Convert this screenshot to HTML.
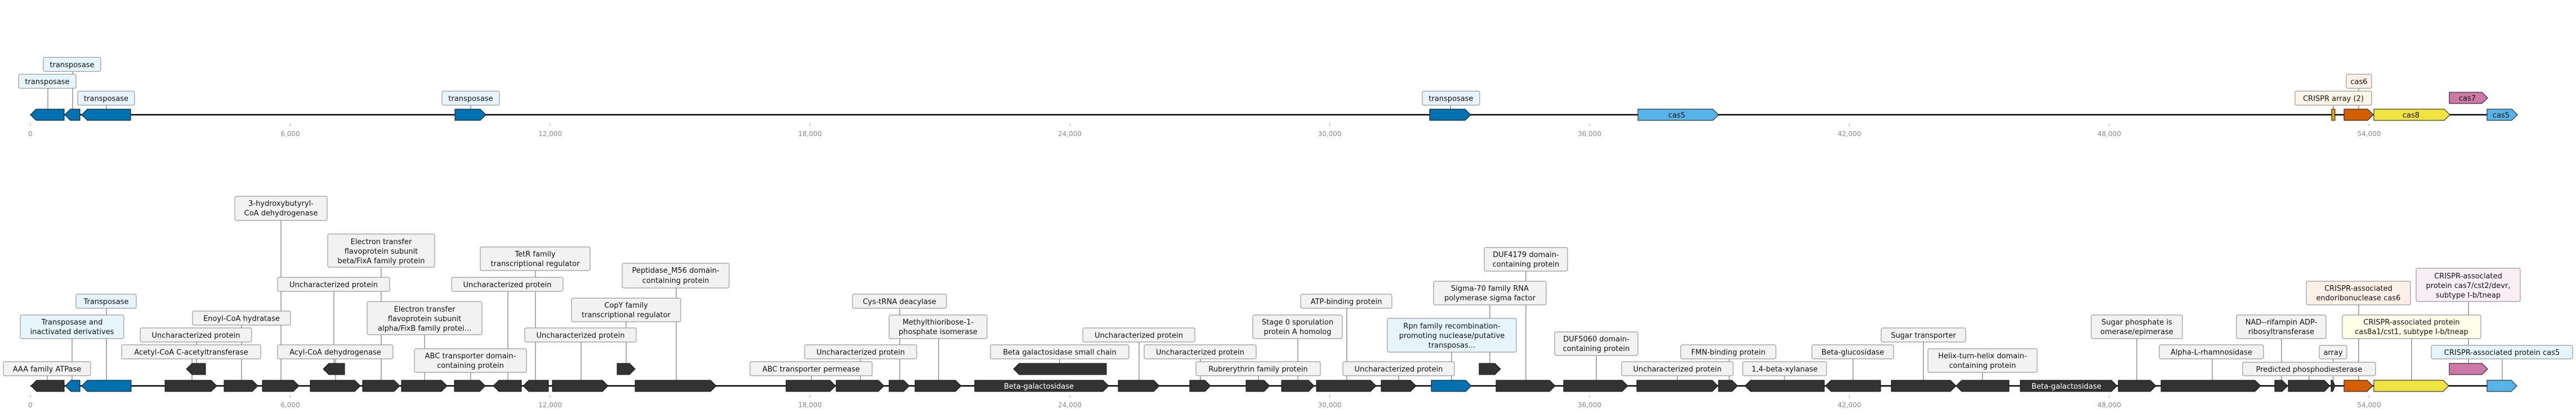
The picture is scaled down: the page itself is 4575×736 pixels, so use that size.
<!DOCTYPE html>
<html><head><meta charset="utf-8"><style>
html,body{margin:0;padding:0;background:#fff;}
svg{display:block;}
text{font-family:"DejaVu Sans","Liberation Sans",sans-serif;}
.lb{font-size:13px;fill:#111;text-anchor:middle;}
.tk{font-size:12px;fill:#888;text-anchor:middle;}
.g{fill:#333;stroke:#111;stroke-width:1;}
.b{fill:#0072b2;stroke:#111;stroke-width:1;}
.bx{fill:#f2f2f2;stroke:#999;stroke-width:1.2;}
.bl{fill:#e6f4fc;stroke:#999;stroke-width:1.2;}
.c{stroke:#333;stroke-width:0.8;}
.gt{font-size:13px;fill:#fff;text-anchor:middle;}
.ct{font-size:13px;fill:#111;text-anchor:middle;}
</style></head><body>
<svg width="4575" height="736" xmlns="http://www.w3.org/2000/svg">
<!-- TOP TRACK -->
<line x1="54" y1="204" x2="4417" y2="204" stroke="#000" stroke-width="2.5"/>
<g stroke="#999" stroke-width="1">
<line x1="54" y1="220" x2="54" y2="224"/><line x1="515.5" y1="220" x2="515.5" y2="224"/><line x1="977" y1="220" x2="977" y2="224"/><line x1="1438.5" y1="220" x2="1438.5" y2="224"/><line x1="1900" y1="220" x2="1900" y2="224"/><line x1="2361.5" y1="220" x2="2361.5" y2="224"/><line x1="2823" y1="220" x2="2823" y2="224"/><line x1="3284.5" y1="220" x2="3284.5" y2="224"/><line x1="3746" y1="220" x2="3746" y2="224"/><line x1="4207.5" y1="220" x2="4207.5" y2="224"/>
</g>
<g class="tk">
<text x="54" y="242">0</text><text x="515.5" y="242">6,000</text><text x="977" y="242">12,000</text><text x="1438.5" y="242">18,000</text><text x="1900" y="242">24,000</text><text x="2361.5" y="242">30,000</text><text x="2823" y="242">36,000</text><text x="3284.5" y="242">42,000</text><text x="3746" y="242">48,000</text><text x="4207.5" y="242">54,000</text>
</g>
<g class="c">
<line x1="85" y1="157" x2="85" y2="194"/><line x1="129" y1="127" x2="129" y2="194"/><line x1="189" y1="187" x2="189" y2="194"/><line x1="836" y1="187" x2="836" y2="194"/><line x1="2576" y1="187" x2="2576" y2="194"/><line x1="4189" y1="157" x2="4189" y2="194"/><line x1="4144" y1="187" x2="4144" y2="194"/>
</g>
<path class="b" d="M114 194 L64 194 L54 204 L64 214 L114 214Z"/>
<path class="b" d="M142 194 L125 194 L115 204 L125 214 L142 214Z"/>
<path class="b" d="M232 194 L155 194 L145 204 L155 214 L232 214Z"/>
<path class="b" d="M808 194 L853 194 L863 204 L853 214 L808 214Z"/>
<path class="b" d="M2539 194 L2602 194 L2612 204 L2602 214 L2539 214Z"/>
<path d="M2909 194 L3042 194 L3052 204 L3042 214 L2909 214Z" fill="#56b4e9" stroke="#111"/>
<text class="ct" x="2978" y="209">cas5</text>
<rect x="4141" y="194" width="6" height="20" fill="#e69f00" stroke="#111"/>
<path d="M4163 194 L4205 194 L4215 204 L4205 214 L4163 214Z" fill="#d55e00" stroke="#111"/>
<path d="M4216 194 L4341 194 L4351 204 L4341 214 L4216 214Z" fill="#f0e442" stroke="#111"/>
<text class="ct" x="4282" y="209">cas8</text>
<path d="M4350 164 L4408 164 L4418 174 L4408 184 L4350 184Z" fill="#cc79a7" stroke="#111"/>
<text class="ct" x="4382" y="179">cas7</text>
<path d="M4417 194 L4461 194 L4471 204 L4461 214 L4417 214Z" fill="#56b4e9" stroke="#111"/>
<text class="ct" x="4442" y="209">cas5</text>
<rect class="bl" x="33" y="132" width="102" height="25" rx="3"/><text class="lb" x="84" y="149.5">transposase</text>
<rect class="bl" x="77" y="102" width="102" height="25" rx="3"/><text class="lb" x="128" y="119.5">transposase</text>
<rect class="bl" x="138" y="162" width="101" height="25" rx="3"/><text class="lb" x="188.5" y="179.5">transposase</text>
<rect class="bl" x="785" y="162" width="102" height="25" rx="3"/><text class="lb" x="836" y="179.5">transposase</text>
<rect class="bl" x="2526" y="162" width="102" height="25" rx="3"/><text class="lb" x="2577" y="179.5">transposase</text>
<rect x="4167" y="132" width="45" height="25" rx="3" fill="#fdf0e6" stroke="#999" stroke-width="1.2"/><text class="lb" x="4189.5" y="149.5">cas6</text>
<rect x="4076" y="162" width="136" height="25" rx="3" fill="#fdf6e8" stroke="#999" stroke-width="1.2"/><text class="lb" x="4144" y="179.5">CRISPR array (2)</text>

<!-- BOTTOM TRACK -->
<line x1="54" y1="686" x2="4417" y2="686" stroke="#000" stroke-width="2.5"/>
<g stroke="#999" stroke-width="1">
<line x1="54" y1="703" x2="54" y2="707"/><line x1="515.5" y1="703" x2="515.5" y2="707"/><line x1="977" y1="703" x2="977" y2="707"/><line x1="1438.5" y1="703" x2="1438.5" y2="707"/><line x1="1900" y1="703" x2="1900" y2="707"/><line x1="2361.5" y1="703" x2="2361.5" y2="707"/><line x1="2823" y1="703" x2="2823" y2="707"/><line x1="3284.5" y1="703" x2="3284.5" y2="707"/><line x1="3746" y1="703" x2="3746" y2="707"/><line x1="4207.5" y1="703" x2="4207.5" y2="707"/>
</g>
<g class="tk">
<text x="54" y="724">0</text><text x="515.5" y="724">6,000</text><text x="977" y="724">12,000</text><text x="1438.5" y="724">18,000</text><text x="1900" y="724">24,000</text><text x="2361.5" y="724">30,000</text><text x="2823" y="724">36,000</text><text x="3284.5" y="724">42,000</text><text x="3746" y="724">48,000</text><text x="4207.5" y="724">54,000</text>
</g>
<!-- connectors -->
<g class="c">
<line x1="84" y1="668" x2="84" y2="676"/>
<line x1="128" y1="602" x2="128" y2="676"/>
<line x1="189" y1="548" x2="189" y2="676"/>
<line x1="341" y1="638" x2="341" y2="676"/>
<line x1="349" y1="608" x2="349" y2="646"/>
<line x1="429" y1="578" x2="429" y2="676"/>
<line x1="499" y1="392" x2="499" y2="676"/>
<line x1="593" y1="518" x2="593" y2="646"/>
<line x1="596" y1="638" x2="596" y2="676"/>
<line x1="677" y1="475" x2="677" y2="676"/>
<line x1="754" y1="595" x2="754" y2="676"/>
<line x1="836" y1="662" x2="836" y2="676"/>
<line x1="902" y1="518" x2="902" y2="676"/>
<line x1="951" y1="481" x2="951" y2="676"/>
<line x1="1032" y1="608" x2="1032" y2="676"/>
<line x1="1112" y1="572" x2="1112" y2="646"/>
<line x1="1201" y1="512" x2="1201" y2="676"/>
<line x1="1441" y1="668" x2="1441" y2="676"/>
<line x1="1528" y1="638" x2="1528" y2="676"/>
<line x1="1598" y1="548" x2="1598" y2="676"/>
<line x1="1667" y1="602" x2="1667" y2="676"/>
<line x1="1882" y1="638" x2="1882" y2="646"/>
<line x1="2023" y1="608" x2="2023" y2="676"/>
<line x1="2132" y1="638" x2="2132" y2="676"/>
<line x1="2235" y1="668" x2="2235" y2="676"/>
<line x1="2305" y1="602" x2="2305" y2="676"/>
<line x1="2392" y1="548" x2="2392" y2="676"/>
<line x1="2484" y1="668" x2="2484" y2="676"/>
<line x1="2578" y1="626" x2="2578" y2="676"/>
<line x1="2646" y1="542" x2="2646" y2="646"/>
<line x1="2710" y1="482" x2="2710" y2="676"/>
<line x1="2835" y1="632" x2="2835" y2="676"/>
<line x1="2979" y1="668" x2="2979" y2="676"/>
<line x1="3071" y1="638" x2="3071" y2="676"/>
<line x1="3169" y1="668" x2="3169" y2="676"/>
<line x1="3291" y1="638" x2="3291" y2="676"/>
<line x1="3416" y1="608" x2="3416" y2="676"/>
<line x1="3521" y1="662" x2="3521" y2="676"/>
<line x1="3795" y1="602" x2="3795" y2="676"/>
<line x1="3929" y1="638" x2="3929" y2="676"/>
<line x1="4052" y1="602" x2="4052" y2="676"/>
<line x1="4101" y1="668" x2="4101" y2="676"/>
<line x1="4144" y1="638" x2="4144" y2="676"/>
<line x1="4189" y1="542" x2="4189" y2="676"/>
<line x1="4283" y1="602" x2="4283" y2="676"/>
<line x1="4384" y1="536" x2="4384" y2="646"/>
<line x1="4444" y1="638" x2="4444" y2="676"/>
</g>
<!-- genes -->
<path class="g" d="M114 676 L65 676 L55 686 L65 696 L114 696Z"/>
<path class="b" d="M142 676 L126 676 L116 686 L126 696 L142 696Z"/>
<path class="b" d="M233 676 L155 676 L145 686 L155 696 L233 696Z"/>
<path class="g" d="M293 676 L375 676 L385 686 L375 696 L293 696Z"/>
<path class="g" d="M398 676 L448 676 L458 686 L448 696 L398 696Z"/>
<path class="g" d="M466 676 L521 676 L531 686 L521 696 L466 696Z"/>
<path class="g" d="M551 676 L630 676 L640 686 L630 696 L551 696Z"/>
<path class="g" d="M644 676 L700 676 L710 686 L700 696 L644 696Z"/>
<path class="g" d="M713 676 L784 676 L794 686 L784 696 L713 696Z"/>
<path class="g" d="M807 676 L852 676 L862 686 L852 696 L807 696Z"/>
<path class="g" d="M926 676 L886 676 L876 686 L886 696 L926 696Z"/>
<path class="g" d="M974 676 L939 676 L929 686 L939 696 L974 696Z"/>
<path class="g" d="M981 676 L1070 676 L1080 686 L1070 696 L981 696Z"/>
<path class="g" d="M1128 676 L1262 676 L1272 686 L1262 696 L1128 696Z"/>
<path class="g" d="M1396 676 L1474 676 L1484 686 L1474 696 L1396 696Z"/>
<path class="g" d="M1485 676 L1560 676 L1570 686 L1560 696 L1485 696Z"/>
<path class="g" d="M1579 676 L1605 676 L1615 686 L1605 696 L1579 696Z"/>
<path class="g" d="M1625 676 L1697 676 L1707 686 L1697 696 L1625 696Z"/>
<path class="g" d="M1731 676 L1959 676 L1969 686 L1959 696 L1731 696Z"/>
<text class="gt" x="1845" y="691">Beta-galactosidase</text>
<path class="g" d="M1986 676 L2049 676 L2059 686 L2049 696 L1986 696Z"/>
<path class="g" d="M2113 676 L2140 676 L2150 686 L2140 696 L2113 696Z"/>
<path class="g" d="M2213 676 L2245 676 L2255 686 L2245 696 L2213 696Z"/>
<path class="g" d="M2276 676 L2324 676 L2334 686 L2324 696 L2276 696Z"/>
<path class="g" d="M2338 676 L2434 676 L2444 686 L2434 696 L2338 696Z"/>
<path class="g" d="M2453 676 L2505 676 L2515 686 L2505 696 L2453 696Z"/>
<path class="b" d="M2542 676 L2603 676 L2613 686 L2603 696 L2542 696Z"/>
<path class="g" d="M2657 676 L2752 676 L2762 686 L2752 696 L2657 696Z"/>
<path class="g" d="M2777 676 L2881 676 L2891 686 L2881 696 L2777 696Z"/>
<path class="g" d="M2907 676 L3041 676 L3051 686 L3041 696 L2907 696Z"/>
<path class="g" d="M3052 676 L3076 676 L3086 686 L3076 696 L3052 696Z"/>
<path class="g" d="M3240 676 L3109 676 L3099 686 L3109 696 L3240 696Z"/>
<path class="g" d="M3340 676 L3252 676 L3242 686 L3252 696 L3340 696Z"/>
<path class="g" d="M3359 676 L3464 676 L3474 686 L3464 696 L3359 696Z"/>
<path class="g" d="M3568 676 L3484 676 L3474 686 L3484 696 L3568 696Z"/>
<path class="g" d="M3588 676 L3750 676 L3760 686 L3750 696 L3588 696Z"/>
<text class="gt" x="3670" y="691">Beta-galactosidase</text>
<path class="g" d="M3762 676 L3819 676 L3829 686 L3819 696 L3762 696Z"/>
<path class="g" d="M3838 676 L4005 676 L4015 686 L4005 696 L3838 696Z"/>
<path class="g" d="M4040 676 L4053 676 L4063 686 L4053 696 L4040 696Z"/>
<path class="g" d="M4064 676 L4128 676 L4138 686 L4128 696 L4064 696Z"/>
<path class="g" d="M4140 676 L4143 676 L4147 686 L4143 696 L4140 696Z"/>
<path d="M4163 676 L4204 676 L4214 686 L4204 696 L4163 696Z" fill="#d55e00" stroke="#111"/>
<path d="M4216 676 L4339 676 L4349 686 L4339 696 L4216 696Z" fill="#f0e442" stroke="#111"/>
<path d="M4417 676 L4460 676 L4470 686 L4460 696 L4417 696Z" fill="#56b4e9" stroke="#111"/>
<!-- elevated -->
<path class="g" d="M365 646 L341 646 L331 656 L341 666 L365 666Z"/>
<path class="g" d="M612 646 L584 646 L574 656 L584 666 L612 666Z"/>
<path class="g" d="M1096 646 L1118 646 L1128 656 L1118 666 L1096 666Z"/>
<path class="g" d="M1965 646 L1810 646 L1800 656 L1810 666 L1965 666Z"/>
<path class="g" d="M2627 646 L2655 646 L2665 656 L2655 666 L2627 666Z"/>
<path d="M4350 646 L4408 646 L4418 656 L4408 666 L4350 666Z" fill="#cc79a7" stroke="#111"/>
<!-- label boxes -->
<rect class="bx" x="6" y="643" width="155" height="25" rx="3"/><text class="lb" x="83.5" y="660.5">AAA family ATPase</text>
<rect class="bl" x="36" y="560" width="184" height="42" rx="3"/><text class="lb" x="128" y="577">Transposase and</text><text class="lb" x="128" y="594">inactivated derivatives</text>
<rect class="bl" x="135" y="523" width="107" height="25" rx="3"/><text class="lb" x="188.5" y="540.5">Transposase</text>
<rect class="bx" x="216" y="613" width="247" height="25" rx="3"/><text class="lb" x="339.5" y="630.5">Acetyl-CoA C-acetyltransferase</text>
<rect class="bx" x="249" y="583" width="198" height="25" rx="3"/><text class="lb" x="348" y="600.5">Uncharacterized protein</text>
<rect class="bx" x="342" y="553" width="174" height="25" rx="3"/><text class="lb" x="429" y="570.5">Enoyl-CoA hydratase</text>
<rect class="bx" x="417" y="349" width="164" height="43" rx="3"/><text class="lb" x="499" y="366">3-hydroxybutyryl-</text><text class="lb" x="499" y="383">CoA dehydrogenase</text>
<rect class="bx" x="493" y="493" width="199" height="25" rx="3"/><text class="lb" x="592.5" y="510.5">Uncharacterized protein</text>
<rect class="bx" x="493" y="613" width="205" height="25" rx="3"/><text class="lb" x="595.5" y="630.5">Acyl-CoA dehydrogenase</text>
<rect class="bx" x="582" y="416" width="190" height="59" rx="3"/><text class="lb" x="677" y="434">Electron transfer</text><text class="lb" x="677" y="451">flavoprotein subunit</text><text class="lb" x="677" y="468">beta/FixA family protein</text>
<rect class="bx" x="652" y="536" width="204" height="59" rx="3"/><text class="lb" x="754" y="554">Electron transfer</text><text class="lb" x="754" y="571">flavoprotein subunit</text><text class="lb" x="754" y="588">alpha/FixB family protei...</text>
<rect class="bx" x="736" y="620" width="199" height="42" rx="3"/><text class="lb" x="835.5" y="637">ABC transporter domain-</text><text class="lb" x="835.5" y="654">containing protein</text>
<rect class="bx" x="802" y="493" width="198" height="25" rx="3"/><text class="lb" x="901" y="510.5">Uncharacterized protein</text>
<rect class="bx" x="853" y="439" width="195" height="42" rx="3"/><text class="lb" x="950.5" y="456">TetR family</text><text class="lb" x="950.5" y="473">transcriptional regulator</text>
<rect class="bx" x="932" y="583" width="198" height="25" rx="3"/><text class="lb" x="1031" y="600.5">Uncharacterized protein</text>
<rect class="bx" x="1015" y="530" width="194" height="42" rx="3"/><text class="lb" x="1112" y="547">CopY family</text><text class="lb" x="1112" y="564">transcriptional regulator</text>
<rect class="bx" x="1105" y="468" width="190" height="44" rx="3"/><text class="lb" x="1200" y="485">Peptidase_M56 domain-</text><text class="lb" x="1200" y="503">containing protein</text>
<rect class="bx" x="1332" y="643" width="217" height="25" rx="3"/><text class="lb" x="1440.5" y="660.5">ABC transporter permease</text>
<rect class="bx" x="1429" y="613" width="199" height="25" rx="3"/><text class="lb" x="1528.5" y="630.5">Uncharacterized protein</text>
<rect class="bx" x="1514" y="523" width="167" height="25" rx="3"/><text class="lb" x="1597.5" y="540.5">Cys-tRNA deacylase</text>
<rect class="bx" x="1579" y="560" width="174" height="42" rx="3"/><text class="lb" x="1666" y="577">Methylthioribose-1-</text><text class="lb" x="1666" y="594">phosphate isomerase</text>
<rect class="bx" x="1759" y="613" width="246" height="25" rx="3"/><text class="lb" x="1882" y="630.5">Beta galactosidase small chain</text>
<rect class="bx" x="1923" y="583" width="199" height="25" rx="3"/><text class="lb" x="2022.5" y="600.5">Uncharacterized protein</text>
<rect class="bx" x="2032" y="613" width="199" height="25" rx="3"/><text class="lb" x="2131.5" y="630.5">Uncharacterized protein</text>
<rect class="bx" x="2124" y="643" width="221" height="25" rx="3"/><text class="lb" x="2234.5" y="660.5">Rubrerythrin family protein</text>
<rect class="bx" x="2225" y="560" width="159" height="42" rx="3"/><text class="lb" x="2304.5" y="577">Stage 0 sporulation</text><text class="lb" x="2304.5" y="594">protein A homolog</text>
<rect class="bx" x="2310" y="523" width="162" height="25" rx="3"/><text class="lb" x="2391" y="540.5">ATP-binding protein</text>
<rect class="bx" x="2385" y="643" width="198" height="25" rx="3"/><text class="lb" x="2484" y="660.5">Uncharacterized protein</text>
<rect class="bl" x="2464" y="566" width="229" height="60" rx="3"/><text class="lb" x="2578.5" y="584">Rpn family recombination-</text><text class="lb" x="2578.5" y="601">promoting nuclease/putative</text><text class="lb" x="2578.5" y="618">transposas...</text>
<rect class="bx" x="2546" y="500" width="200" height="42" rx="3"/><text class="lb" x="2646" y="517">Sigma-70 family RNA</text><text class="lb" x="2646" y="534">polymerase sigma factor</text>
<rect class="bx" x="2636" y="440" width="148" height="42" rx="3"/><text class="lb" x="2710" y="457">DUF4179 domain-</text><text class="lb" x="2710" y="474">containing protein</text>
<rect class="bx" x="2761" y="590" width="148" height="42" rx="3"/><text class="lb" x="2835" y="607">DUF5060 domain-</text><text class="lb" x="2835" y="624">containing protein</text>
<rect class="bx" x="2880" y="643" width="198" height="25" rx="3"/><text class="lb" x="2979" y="660.5">Uncharacterized protein</text>
<rect class="bx" x="2985" y="613" width="169" height="25" rx="3"/><text class="lb" x="3069.5" y="630.5">FMN-binding protein</text>
<rect class="bx" x="3095" y="643" width="149" height="25" rx="3"/><text class="lb" x="3169.5" y="660.5">1,4-beta-xylanase</text>
<rect class="bx" x="3218" y="613" width="145" height="25" rx="3"/><text class="lb" x="3290.5" y="630.5">Beta-glucosidase</text>
<rect class="bx" x="3341" y="583" width="150" height="25" rx="3"/><text class="lb" x="3416" y="600.5">Sugar transporter</text>
<rect class="bx" x="3424" y="620" width="194" height="42" rx="3"/><text class="lb" x="3521" y="637">Helix-turn-helix domain-</text><text class="lb" x="3521" y="654">containing protein</text>
<rect class="bx" x="3714" y="560" width="162" height="42" rx="3"/><text class="lb" x="3795" y="577">Sugar phosphate is</text><text class="lb" x="3795" y="594">omerase/epimerase</text>
<rect class="bx" x="3835" y="613" width="185" height="25" rx="3"/><text class="lb" x="3927.5" y="630.5">Alpha-L-rhamnosidase</text>
<rect class="bx" x="3972" y="560" width="159" height="42" rx="3"/><text class="lb" x="4051.5" y="577">NAD--rifampin ADP-</text><text class="lb" x="4051.5" y="594">ribosyltransferase</text>
<rect class="bx" x="3983" y="644" width="236" height="24" rx="3"/><text class="lb" x="4101" y="661">Predicted phosphodiesterase</text>
<rect class="bx" x="4119" y="614" width="49" height="24" rx="3"/><text class="lb" x="4143.5" y="631">array</text>
<rect x="4096" y="500" width="185" height="42" rx="3" fill="#fdf0e6" stroke="#999" stroke-width="1.2"/><text class="lb" x="4188.5" y="517">CRISPR-associated</text><text class="lb" x="4188.5" y="534">endoribonuclease cas6</text>
<rect x="4160" y="560" width="246" height="42" rx="3" fill="#fefde8" stroke="#999" stroke-width="1.2"/><text class="lb" x="4283" y="577">CRISPR-associated protein</text><text class="lb" x="4283" y="594">cas8a1/cst1, subtype I-b/tneap</text>
<rect x="4291" y="477" width="185" height="59" rx="3" fill="#f8eef4" stroke="#999" stroke-width="1.2"/><text class="lb" x="4383.5" y="495">CRISPR-associated</text><text class="lb" x="4383.5" y="512">protein cas7/cst2/devr,</text><text class="lb" x="4383.5" y="529">subtype I-b/tneap</text>
<rect class="bl" x="4318" y="614" width="251" height="24" rx="3"/><text class="lb" x="4443.5" y="631">CRISPR-associated protein cas5</text>
</svg>
</body></html>
